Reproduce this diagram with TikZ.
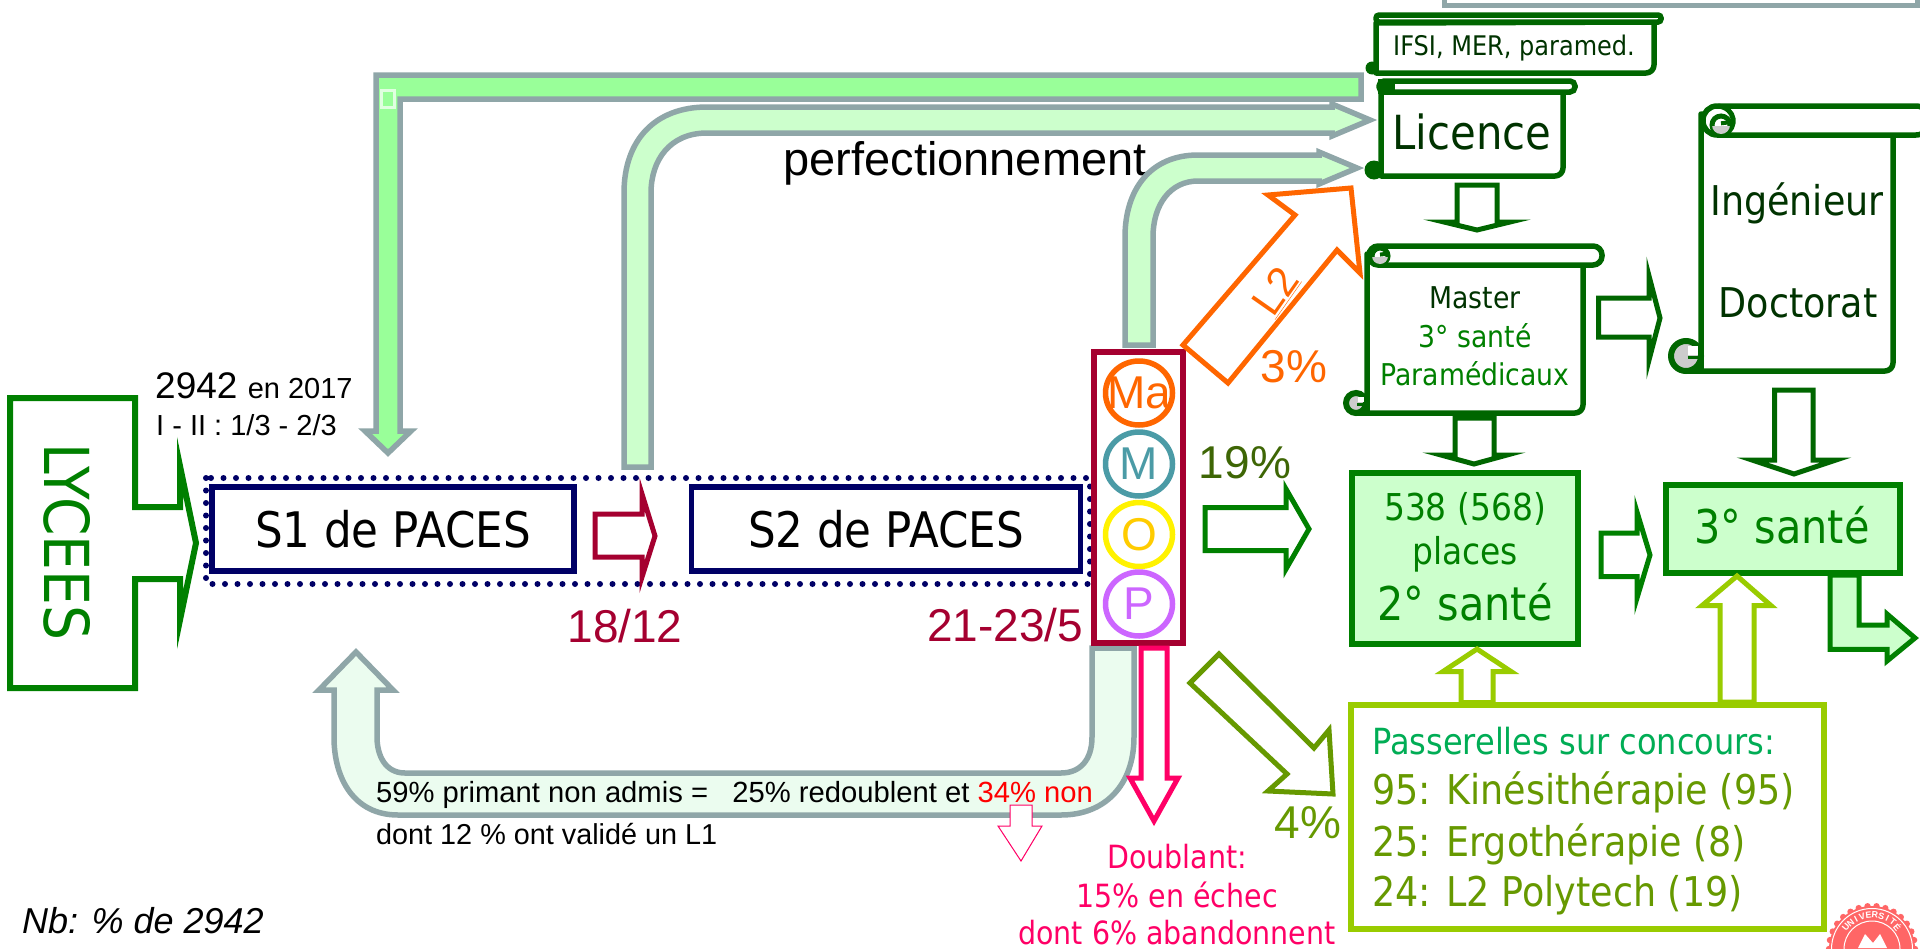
\documentclass[tikz,border=0pt]{standalone}
\usepackage{fontspec}
\setmainfont{Liberation Sans}
\newfontfamily\tah[FakeStretch=0.89]{DejaVu Sans}
\usetikzlibrary{shapes.geometric}
\definecolor{gris}{HTML}{8FA6A8}
\definecolor{vert}{HTML}{008000}
\definecolor{vfonce}{HTML}{006600}
\definecolor{vtxt}{HTML}{003300}
\definecolor{bord}{HTML}{A50030}
\definecolor{marine}{HTML}{000066}
\definecolor{orang}{HTML}{FF6600}
\definecolor{rose}{HTML}{FF0066}
\definecolor{pomme}{HTML}{99CC00}
\definecolor{olive}{HTML}{669900}
\definecolor{pale}{HTML}{CCFFCC}
\definecolor{pale2}{HTML}{EBFCEF}
\definecolor{vif}{HTML}{99FF99}
\definecolor{teal2}{HTML}{4B9BA6}
\definecolor{viol}{HTML}{CC66FF}
\definecolor{jaune}{HTML}{FFCC00}
\definecolor{sceau}{HTML}{FF6666}
\definecolor{curlgrey}{HTML}{CCCCCC}
\newcommand{\fs}[1]{\fontsize{#1}{#1}\selectfont}
% #1 L, #2 R, #3 top, #4 bar bottom, #5 bottom, #6 bar left, #7 bar right, #8 bar radius
\newcommand{\scrollshape}[8]{%
 \draw[fill=white,draw=vfonce,line width=5.5pt,line join=round,rounded corners=8pt] (#2,#4) -- (#2,#5) -- (#1+30,#5) [sharp corners] -- (#1,#5) -- (#1,#3+8) -- cycle;
 \draw[fill=white,draw=vfonce,line width=5.5pt,rounded corners=#8] (#6,#3) rectangle (#7,#4);
}
% top curl: cx, cy, r
\newcommand{\topcurl}[3]{%
 \draw[fill=white,draw=vfonce,line width=5pt] (#1,#2) circle (#3 pt);
 \begin{scope}
  \clip (#1-#3,#2+1) rectangle (#1+#3,#2+#3);
  \fill[curlgrey] (#1,#2) circle (#3 pt);
 \end{scope}
 \draw[vfonce,line width=4pt] (#1+#3,#2-#3*0.3) -- (#1,#2-#3*0.3+1);
}
% bottom curl: cx, cy, r, body left
\newcommand{\botcurl}[4]{%
 \draw[vfonce,line width=5.5pt] (#1,#2+#3) -- (#4,#2+#3);
 \draw[fill=curlgrey,draw=vfonce,line width=6pt] (#1,#2) circle (#3 pt);
 \fill[white] (#1+#3*0.15,#2-#3*0.65) rectangle (#1+#3*0.8,#2-#3*0.1);
 \draw[vfonce,line width=3pt] (#1+#3*0.1,#2+#3*0.1) -- (#1+#3*0.8,#2+#3*0.1);
}
\tikzset{
 x=1pt,y=-1pt,
 blk/.style={line width=5pt,line join=miter,miter limit=10,fill=white},
 lab/.style={inner sep=0pt,anchor=base},
 labl/.style={inner sep=0pt,anchor=base west},
 circ/.style={ellipse,minimum width=67pt,minimum height=64pt,line width=5.5pt,inner sep=0pt},
 circt/.style={inner sep=0pt,font=\fs{46}},
 grey/.style={line width=5.5pt,line join=miter,miter limit=10,draw=gris},
 dent/.style={inner sep=0pt}
}
\begin{document}
\begin{tikzpicture}
\useasboundingbox (0,0) rectangle (1920,948);
\fill[white] (0,0) rectangle (1920,948);

% top box
\draw[draw=gris,line width=5pt,fill=white] (1444,-10) rectangle (1917,5);

% Lycees
\draw[blk,draw=vert,line width=6pt] (10,398) -- (135,398) -- (135,507) -- (180,507) -- (180,466) -- (196,543) -- (180,620) -- (180,579) -- (135,579) -- (135,688) -- (10,688) -- cycle;
\node[inner sep=0pt,rotate=-90,text=vert,font=\tah\fs{62}] (lyc) at (67,542) {LYCEES};

\node[labl,font=\fs{37}] (n2942) at (155,398) {2942 {\fs{29}en 2017}};
\node[labl,font=\fs{29}] (ratio) at (156,435) {I - II : 1/3 - 2/3};

% top bright arrow
\draw[grey,fill=vif] (376,75) -- (1361,75) -- (1361,99) -- (400,99) -- (400,431) -- (411,431) -- (388,453) -- (365,431) -- (376,431) -- cycle;
\draw[white,opacity=.7,line width=3pt] (381,90) rectangle (394,107);

% second bent arrow
\draw[grey,fill=pale] (624,467) -- (624,193) .. controls (624,140) and (655,107) .. (707,107) -- (1332,107) -- (1332,104) -- (1370,120) -- (1332,136) -- (1332,133) -- (707,133) .. controls (670,133) and (651,160) .. (651,193) -- (651,467) -- cycle;
\node[lab,font=\fs{47}] (perf) at (965,175) {perfectionnement};

% third bent arrow
\draw[grey,fill=pale] (1125,345) -- (1125,237) .. controls (1125,190) and (1150,155) .. (1198,155) -- (1319,155) -- (1319,152) -- (1357,168) -- (1319,184) -- (1319,181) -- (1198,181) .. controls (1170,181) and (1153,205) .. (1153,237) -- (1153,345) -- cycle;

% U arrow
\draw[grey,fill=pale2] (1092,648) -- (1134,648) -- (1134,737) .. controls (1134,785) and (1105,815) .. (1061,815) -- (398,815) .. controls (355,815) and (334,780) .. (334,737) -- (334,690) -- (319,690) -- (356,652) -- (393,690) -- (377,690) -- (377,737) .. controls (377,755) and (385,773) .. (405,773) -- (1061,773) .. controls (1080,773) and (1092,760) .. (1092,737) -- cycle;

% PACES
\draw[marine,line width=6pt,dash pattern=on 0pt off 12.5pt,line cap=round] (206,478) rectangle (1090,584);
\node[draw=marine,line width=5.5pt,fill=white,minimum width=362pt,minimum height=84pt,inner sep=0pt,font=\tah\fs{49}] (s1) at (393,529) {S1 de PACES};
\node[draw=marine,line width=5.5pt,fill=white,minimum width=389pt,minimum height=84pt,inner sep=0pt,font=\tah\fs{49}] (s2) at (886,529) {S2 de PACES};

\draw[blk,draw=bord] (595,514) -- (642,514) -- (642,494) -- (655,536) -- (642,577) -- (642,557) -- (595,557) -- cycle;
\node[lab,text=bord,font=\fs{46}] (d1) at (625,642) {18/12};
\node[lab,text=bord,font=\fs{46}] (d2) at (1005,641) {21-23/5};

% MOP
\node[draw=bord,line width=6pt,fill=white,minimum width=89pt,minimum height=291pt,inner sep=0pt] (mop) at (1138.5,497.5) {};
\node[circ,draw=orang] (ma) at (1139,393) {};
\node[circ,draw=teal2] (m) at (1139,464) {};
\node[circ,draw=yellow] (o) at (1139,534.5) {};
\node[circ,draw=viol] (p) at (1139,604) {};
\node[circt,text=orang] (mat) at (ma) {Ma};
\node[circt,text=teal2] (mt) at (m) {M};
\node[circt,text=jaune] (ot) at (o) {O};
\node[circt,text=viol] (pt) at (p) {P};

% orange L2
\draw[blk,draw=orang] (1183,345) -- (1295,215) -- (1268,195) -- (1351,188) -- (1360,273) -- (1337,250) -- (1228,383) -- cycle;
\node[inner sep=0pt,rotate=55,text=orang,font=\fs{42}] (l2) at (1276,292) {\underline{L2}};
\node[lab,text=orang,font=\fs{46}] (p3) at (1294,382) {3\%};

\node[lab,text={rgb,255:red,62;green,102;blue,5},font=\fs{46}] (p19) at (1245,478) {19\%};
\draw[blk,draw=vert] (1205,507.5) -- (1286,507.5) -- (1286,489) -- (1309,529) -- (1286,569) -- (1286,550.5) -- (1205,550.5) -- cycle;

% olive arrow
\draw[blk,draw=olive] (1219,654) -- (1314,748) -- (1329,730) -- (1333,794) -- (1268,791) -- (1287,774) -- (1190,683) -- cycle;
\node[lab,text=olive,font=\fs{46}] (p4) at (1308,838) {4\%};

% pink arrow
\draw[blk,draw=rose] (1141,648) -- (1167,648) -- (1167,778) -- (1178,778) -- (1154,821) -- (1130,778) -- (1141,778) -- cycle;
\node[lab,text=rose,font=\tah\fs{32}] (db1) at (1177,868) {Doublant:};
\node[lab,text=rose,font=\tah\fs{32}] (db2) at (1177,907) {15\% en échec};
\node[lab,text=rose,font=\tah\fs{32}] (db3) at (1177,944) {dont 6\% abandonnent};

% U text
\draw[rose,line width=1pt,fill=white] (1010,805) -- (1032,805) -- (1032,826) -- (1042,826) -- (1021,861) -- (998,826) -- (1010,826) -- cycle;
\node[labl,font=\fs{29.2}] (t59) at (376,802) {59\% primant non admis =\ \ \ 25\% redoublent et \textcolor{red}{34\% non}};
\node[labl,font=\fs{28.8}] (t12) at (376,844) {dont 12 \% ont validé un L1};
\node[labl,font=\itshape\fs{36}] (nb) at (22,933) {Nb: \% de 2942};

% IFSI scroll
\scrollshape{1376}{1654}{15}{22}{73}{1376}{1661}{3pt}
\fill[vfonce] (1372,68) circle (6.5pt);
\node[lab,text=vtxt,font=\tah\fs{27}] (ifsi) at (1514,55) {IFSI, MER, paramed.};

% Licence scroll
\scrollshape{1381}{1563}{81}{92}{176}{1379}{1575}{5pt}
\fill[vfonce] (1378,79) rectangle (1395,94);
\fill[vfonce] (1374,170) circle (9.5pt);
\node[lab,text=vtxt,font=\tah\fs{47}] (lic) at (1472,149) {Licence};

\draw[blk,draw=vfonce] (1457,185) -- (1497,185) -- (1497,222) -- (1510,222) -- (1477,230) -- (1444,222) -- (1457,222) -- cycle;

% Master scroll
\scrollshape{1367}{1583}{246}{265}{413}{1369}{1602}{9pt}
\botcurl{1356}{403}{10}{1367}
\topcurl{1380}{256}{8}
\node[lab,text=vtxt,font=\tah\fs{30}] (mas) at (1475,308) {Master};
\node[lab,text=vert,font=\tah\fs{30}] (s3a) at (1475,347) {3° santé};
\node[lab,text=vert,font=\tah\fs{30}] (par) at (1475,385) {Paramédicaux};

\draw[blk,draw=vfonce] (1455,418) -- (1494,418) -- (1494,455) -- (1507,455) -- (1474,464) -- (1441,455) -- (1455,455) -- cycle;
\draw[blk,draw=vfonce] (1598.5,298) -- (1649,298) -- (1649,276) -- (1660,318) -- (1649,360) -- (1649,337) -- (1598.5,337) -- cycle;

% Ingenieur scroll
\scrollshape{1701}{1893}{106}{135}{371}{1703}{1930}{14pt}
\botcurl{1686}{356}{15}{1701}
\draw[vfonce,line width=5pt] (1718,106) .. controls (1736,108) and (1738,128) .. (1724,135);
\topcurl{1721}{125}{9}
\node[lab,text=vtxt,font=\tah\fs{41}] (ing) at (1797,215) {Ingénieur};
\node[lab,text=vtxt,font=\tah\fs{41}] (doc) at (1798,317) {Doctorat};

\draw[blk,draw=vfonce] (1774.5,390) -- (1813,390) -- (1813,460) -- (1836,460) -- (1794,474) -- (1752,460) -- (1774.5,460) -- cycle;

% 2 sante
\node[draw=vert,line width=6pt,fill=pale,minimum width=226pt,minimum height=171pt,inner sep=0pt] (b2) at (1465,558) {};
\node[lab,text=vert,font=\tah\fs{37}] (pl1) at (1465,520) {538 (568)};
\node[lab,text=vert,font=\tah\fs{37}] (pl2) at (1465,564) {places};
\node[lab,text=vert,font=\tah\fs{46.5}] (pl3) at (1465,620) {2° santé};

\draw[blk,draw=vert] (1601,533) -- (1637,533) -- (1637,512) -- (1650,555) -- (1637,598) -- (1637,576.5) -- (1601,576.5) -- cycle;

% 3 sante
\node[draw=vert,line width=6pt,fill=pale,minimum width=234pt,minimum height=88pt,inner sep=0pt] (b3) at (1783,529) {};
\node[lab,text=vert,font=\tah\fs{46.5}] (s3) at (1782,543.5) {3° santé};

\draw[blk,draw=vert,fill=pale] (1830,575) -- (1859,575) -- (1859,625) -- (1887,625) -- (1887,614) -- (1915,638) -- (1887,661) -- (1887,649.4) -- (1830,649.4) -- cycle;

% Passerelles
\draw[blk,draw=pomme] (1461,702.5) -- (1461,671.5) -- (1443,671.5) -- (1477,649) -- (1511,671.5) -- (1493,671.5) -- (1493,702.5) -- cycle;
\draw[blk,draw=pomme] (1720,702) -- (1720,605.6) -- (1702,605.6) -- (1737,576) -- (1771,605.6) -- (1754,605.6) -- (1754,702) -- cycle;
\node[draw=pomme,line width=6pt,fill=white,minimum width=473pt,minimum height=224pt,inner sep=0pt] (pas) at (1587.5,817) {};
\node[labl,text={rgb,255:red,0;green,173;blue,85},font=\tah\fs{36}] (pa0) at (1372,754) {Passerelles sur concours:};
\node[labl,text=olive,font=\tah\fs{41}] (pa1) at (1372,804.5) {95: Kinésithérapie (95)};
\node[labl,text=olive,font=\tah\fs{41}] (pa2) at (1372,856) {25: Ergothérapie (8)};
\node[labl,text=olive,font=\tah\fs{41}] (pa3) at (1372,906) {24: L2 Polytech (19)};

% seal
\fill[sceau] (1872,949) circle (43pt);
\foreach \a in {0,12,...,348} \fill[sceau] ({1872+43*cos(\a)},{949-43*sin(\a)}) circle (3.2pt);
\draw[white,line width=1pt] (1872,949) circle (40.5pt);
\draw[white,line width=1pt] (1872,949) circle (28pt);
\foreach \l [count=\i] in {U,N,I,V,E,R,S,I,T,É}
  \node[dent,text=white,font=\bfseries\fs{9},rotate={140-(\i-1)*11-90}] at ({1872+34*cos(140-(\i-1)*11)},{949-34*sin(140-(\i-1)*11)}) {\l};
\fill[white] (1858,948) -- (1865,934) -- (1873,943) -- (1880,934) -- (1887,948) -- cycle;
\end{tikzpicture}
\end{document}
